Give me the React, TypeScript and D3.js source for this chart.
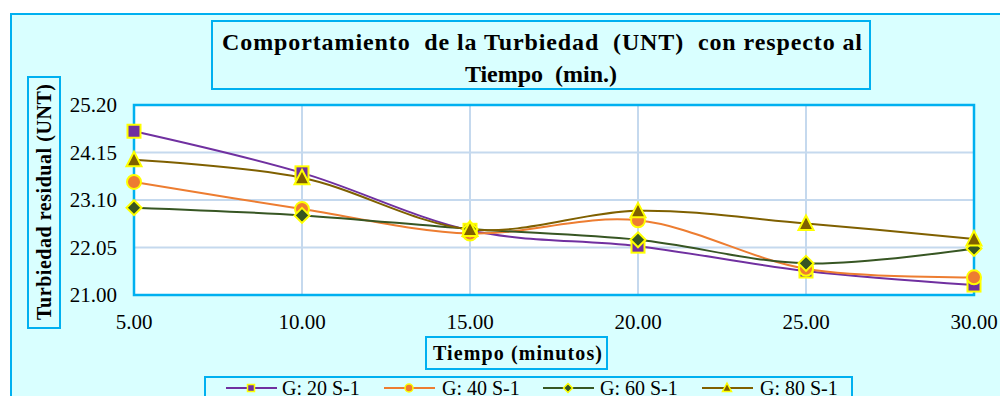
import React from "react";
import * as d3 from "d3";

const times = [5, 10, 15, 20, 25, 30];
const g20 = [24.62, 23.7, 22.43, 22.08, 21.53, 21.22];
const g40 = [23.5, 22.9, 22.36, 22.65, 21.58, 21.39];
const g60 = [22.93, 22.76, 22.46, 22.22, 21.7, 22.03];
const g80 = [23.99, 23.59, 22.45, 22.86, 22.58, 22.24];
const yTicks = [21.0, 22.05, 23.1, 24.15, 25.2];
const xTicks = [5, 10, 15, 20, 25, 30];
const seriesNames = ["G: 20 S-1", "G: 40 S-1", "G: 60 S-1", "G: 80 S-1"];

const colors = ["#7030A0", "#ED7D31", "#375623", "#7F6000"];
const shapes = ["square", "circle", "diamond", "triangle"];
const seriesValues = [g20, g40, g60, g80];

const FONT = "Liberation Serif, Times New Roman, Times, DejaVu Serif, serif";
const CYAN = "#00B0F0";

function Marker({ shape, x, y, size, color, sw }: any) {
  const h = size / 2;
  if (shape === "square")
    return <rect x={x - h} y={y - h} width={size} height={size} fill={color} stroke="#FFFF00" strokeWidth={sw} />;
  if (shape === "circle")
    return <circle cx={x} cy={y} r={h + 0.5} fill={color} stroke="#FFFF00" strokeWidth={sw} />;
  if (shape === "diamond")
    return (
      <path
        d={`M${x},${y - h - 1}L${x + h + 1},${y}L${x},${y + h + 1}L${x - h - 1},${y}Z`}
        fill={color}
        stroke="#FFFF00"
        strokeWidth={sw}
      />
    );
  return (
    <path
      d={`M${x},${y - h - 1.5}L${x + h + 1},${y + h}L${x - h - 1},${y + h}Z`}
      fill={color}
      stroke="#FFFF00"
      strokeWidth={sw}
    />
  );
}

export default function App() {
  const left = 134, right = 974, top = 105, bottom = 295;
  const x = d3.scaleLinear().domain([5, 30]).range([left, right]);
  const y = d3.scaleLinear().domain([21, 25.2]).range([bottom, top]);
  const line = d3
    .line<number>()
    .x((_, i) => x(times[i]))
    .y((d) => y(d))
    .curve(d3.curveCatmullRom.alpha(0));

  const legendItems = [
    { lx: 226, tx: 282 },
    { lx: 384, tx: 442 },
    { lx: 543, tx: 600 },
    { lx: 702, tx: 760 },
  ];

  return (
    <svg
      width={1000}
      height={396}
      fontFamily={FONT}
      style={{ position: "absolute", left: 0, top: 0 }}
    >
      <rect x={0} y={0} width={1000} height={396} fill="#ffffff" />
      <rect x={11} y={14} width={1000} height={420} fill="#D9FFFF" stroke={CYAN} strokeWidth={2} />

      {/* title box */}
      <rect x={212} y={21} width={658} height={68} fill="#D9FFFF" stroke={CYAN} strokeWidth={2} />
      <text x={222} y={50} fontFamily={FONT} fontSize={24} fontWeight="bold" textLength={640} lengthAdjust="spacing" style={{ whiteSpace: "pre" }}>
        {"Comportamiento  de la Turbiedad  (UNT)  con respecto al"}
      </text>
      <text x={541} y={82} fontFamily={FONT} fontSize={24} fontWeight="bold" textAnchor="middle" style={{ whiteSpace: "pre" }}>
        {"Tiempo  (min.)"}
      </text>

      {/* plot area */}
      <rect x={left} y={top} width={right - left} height={bottom - top} fill="#ffffff" />
      {yTicks.map((t) => (
        <line key={"gy" + t} x1={left} x2={right} y1={y(t)} y2={y(t)} stroke="#C5D9EE" strokeWidth={2} />
      ))}
      {xTicks.map((t) => (
        <line key={"gx" + t} x1={x(t)} x2={x(t)} y1={top} y2={bottom} stroke="#C5D9EE" strokeWidth={2} />
      ))}
      <rect x={left} y={top} width={right - left} height={bottom - top} fill="none" stroke={CYAN} strokeWidth={2.5} />

      {/* y tick labels */}
      {yTicks.map((t) => (
        <text key={"yl" + t} x={117} y={y(t) + 7} fontFamily={FONT} fontSize={21} textAnchor="end" fill="#000">
          {t.toFixed(2)}
        </text>
      ))}
      {/* x tick labels */}
      {xTicks.map((t) => (
        <text key={"xl" + t} x={x(t)} y={329} fontFamily={FONT} fontSize={21} textAnchor="middle" fill="#000">
          {t.toFixed(2)}
        </text>
      ))}

      {/* series */}
      {seriesValues.map((vals, si) => (
        <path key={"l" + si} d={line(vals) || ""} fill="none" stroke={colors[si]} strokeWidth={2} />
      ))}
      {seriesValues.map((vals, si) =>
        vals.map((v, i) => (
          <Marker key={"m" + si + "-" + i} shape={shapes[si]} x={x(times[i])} y={y(v)} size={13} color={colors[si]} sw={2} />
        ))
      )}

      {/* y axis title */}
      <rect x={28} y={77} width={32} height={251} fill="#D9FFFF" stroke={CYAN} strokeWidth={2} />
      <text
        transform="translate(51,202) rotate(-90)"
        fontFamily={FONT}
        fontSize={20}
        fontWeight="bold"
        textAnchor="middle"
        textLength={236}
        lengthAdjust="spacing"
      >
        Turbiedad residual (UNT)
      </text>

      {/* x axis title */}
      <rect x={426} y={337} width={181} height={32} fill="#D9FFFF" stroke={CYAN} strokeWidth={2} />
      <text x={433} y={360} fontFamily={FONT} fontSize={20} fontWeight="bold" textLength={169} lengthAdjust="spacing">
        Tiempo (minutos)
      </text>

      {/* legend */}
      <rect x={205} y={377} width={647} height={40} fill="#D9FFFF" stroke={CYAN} strokeWidth={2} />
      {seriesNames.map((name, si) => (
        <g key={"lg" + si}>
          <line x1={legendItems[si].lx} x2={legendItems[si].lx + 51} y1={388} y2={388} stroke={colors[si]} strokeWidth={2} />
          <Marker shape={shapes[si]} x={legendItems[si].lx + 25} y={388} size={7} color={colors[si]} sw={1.5} />
          <text x={legendItems[si].tx} y={395} fontFamily={FONT} fontSize={20} fill="#000">
            {name}
          </text>
        </g>
      ))}
    </svg>
  );
}
